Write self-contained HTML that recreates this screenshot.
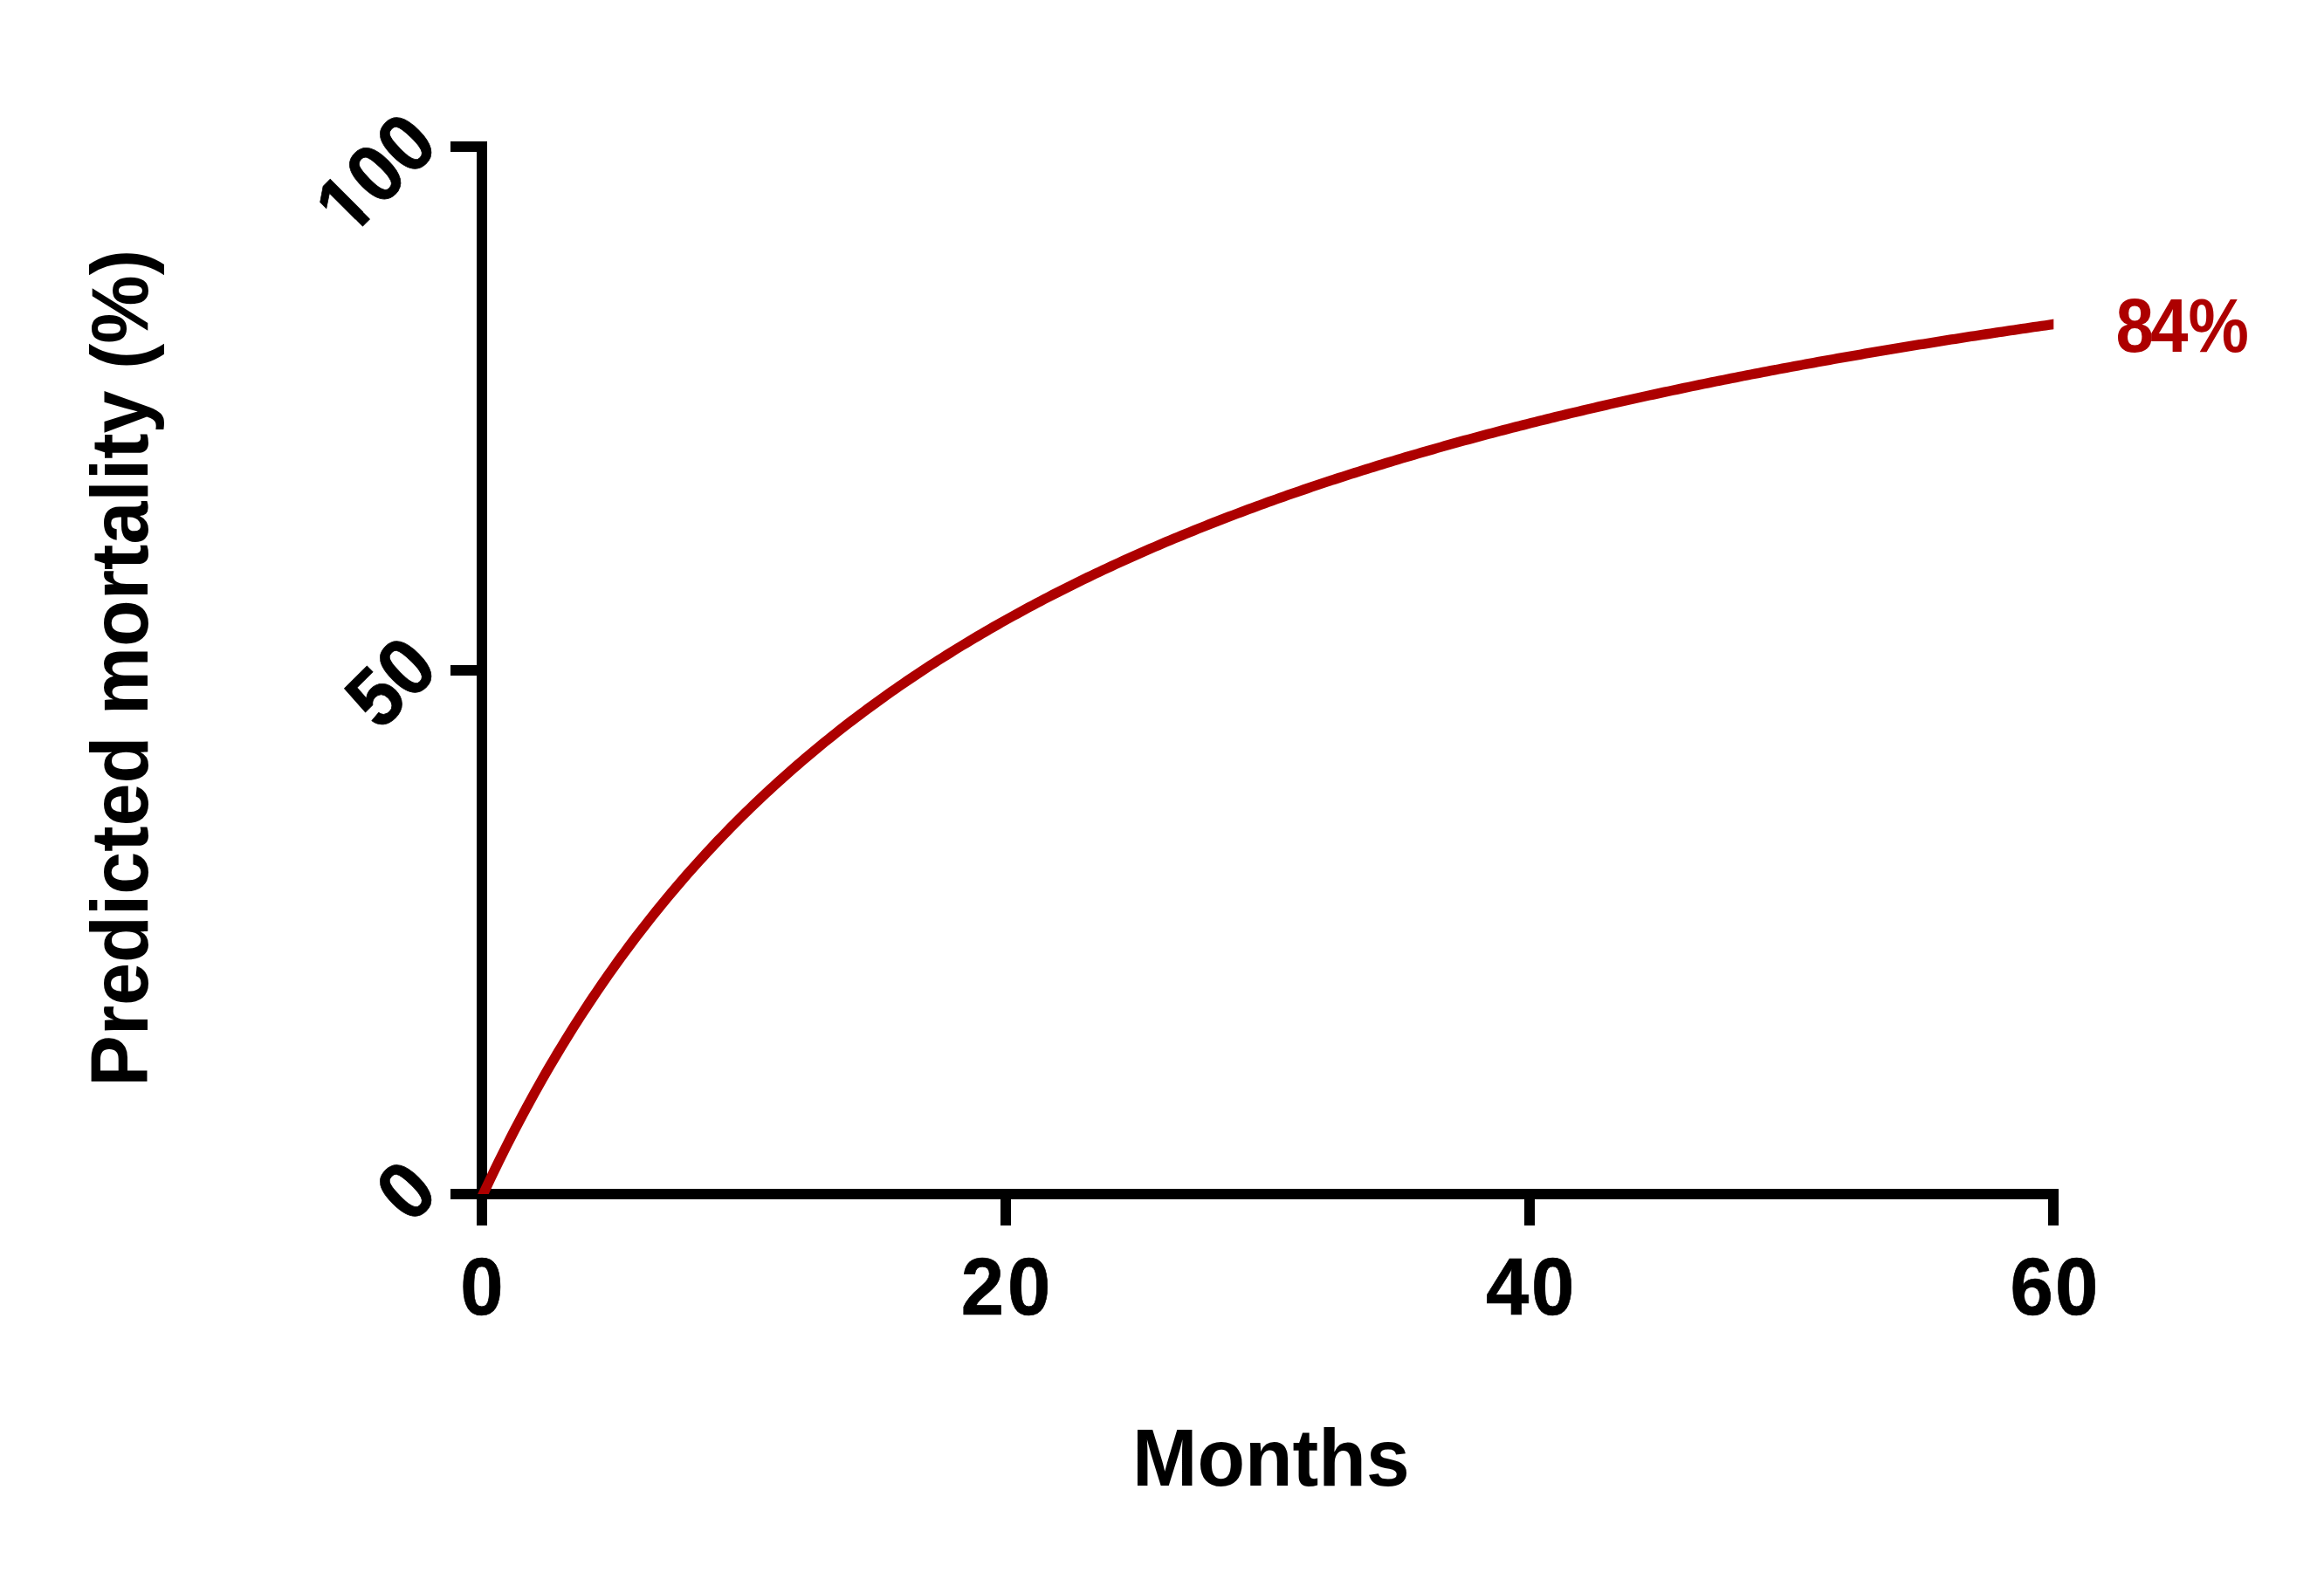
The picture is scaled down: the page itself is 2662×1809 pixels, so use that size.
<!DOCTYPE html>
<html lang="en"><head><meta charset="utf-8"><title>Predicted mortality</title>
<style>
html,body{margin:0;padding:0;background:#fff;}
body{width:2662px;height:1809px;overflow:hidden;}
svg{display:block;}
text{font-family:"Liberation Sans",Arial,Helvetica,sans-serif;font-weight:bold;}
</style></head><body>
<svg width="2662" height="1809" viewBox="0 0 2662 1809">
<rect width="2662" height="1809" fill="#fff"/>
<defs><clipPath id="plotclip"><rect x="500" y="0" width="1852.30" height="1368"/></clipPath></defs>

<g fill="#000" shape-rendering="crispEdges">
<rect x="546" y="162" width="12" height="1212"/>
<rect x="516" y="1362" width="1842" height="12"/>
<rect x="516" y="162" width="42" height="12"/>
<rect x="516" y="762" width="42" height="12"/>
<rect x="546" y="1362" width="12" height="42"/>
<rect x="1146" y="1362" width="12" height="42"/>
<rect x="1746" y="1362" width="12" height="42"/>
<rect x="2346" y="1362" width="12" height="42"/>
</g>
<polyline clip-path="url(#plotclip)" points="535.51,1407.93 540.01,1397.73 544.51,1387.67 549.00,1377.77 553.50,1368.00 558.00,1358.37 562.49,1348.89 566.99,1339.53 571.49,1330.31 575.98,1321.22 580.48,1312.25 584.97,1303.40 589.47,1294.68 593.97,1286.08 598.46,1277.59 602.96,1269.21 607.46,1260.95 611.95,1252.79 616.45,1244.75 620.94,1236.80 625.44,1228.96 629.94,1221.23 634.43,1213.59 638.93,1206.04 643.42,1198.60 647.92,1191.24 652.42,1183.98 656.91,1176.81 661.41,1169.72 665.91,1162.73 670.40,1155.81 674.90,1148.99 679.39,1142.24 683.89,1135.57 688.39,1128.99 692.88,1122.48 697.38,1116.05 701.88,1109.69 706.37,1103.41 710.87,1097.20 715.37,1091.06 719.86,1084.99 724.36,1078.99 728.85,1073.05 733.35,1067.19 737.85,1061.39 742.34,1055.65 746.84,1049.98 751.34,1044.37 755.83,1038.82 760.33,1033.33 764.82,1027.90 769.32,1022.52 773.82,1017.21 778.31,1011.95 782.81,1006.75 787.30,1001.60 791.80,996.51 796.30,991.46 800.79,986.47 805.29,981.54 809.79,976.65 814.28,971.81 818.78,967.02 823.27,962.28 827.77,957.59 832.27,952.94 836.76,948.34 841.26,943.79 845.76,939.28 850.25,934.82 854.75,930.39 859.24,926.02 863.74,921.68 868.24,917.38 872.73,913.13 877.23,908.92 881.73,904.74 886.22,900.61 890.72,896.51 895.22,892.46 899.71,888.44 904.21,884.45 908.70,880.51 913.20,876.60 917.70,872.72 922.19,868.88 926.69,865.08 931.18,861.31 935.68,857.57 940.18,853.87 944.67,850.20 949.17,846.56 953.67,842.96 958.16,839.38 962.66,835.84 967.15,832.33 971.65,828.85 976.15,825.39 980.64,821.97 985.14,818.58 989.64,815.22 994.13,811.88 998.63,808.57 1003.12,805.29 1007.62,802.04 1012.12,798.81 1016.61,795.62 1021.11,792.44 1025.61,789.30 1030.10,786.18 1034.60,783.08 1039.10,780.01 1043.59,776.97 1048.09,773.95 1052.58,770.95 1057.08,767.98 1061.58,765.03 1066.07,762.10 1070.57,759.20 1075.07,756.32 1079.56,753.47 1084.06,750.63 1088.55,747.82 1093.05,745.03 1097.55,742.26 1102.04,739.51 1106.54,736.78 1111.04,734.08 1115.53,731.39 1120.03,728.73 1124.52,726.08 1129.02,723.46 1133.52,720.85 1138.01,718.26 1142.51,715.70 1147.01,713.15 1151.50,710.62 1156.00,708.11 1160.49,705.62 1164.99,703.14 1169.49,700.69 1173.98,698.25 1178.48,695.83 1182.97,693.42 1187.47,691.04 1191.97,688.67 1196.46,686.32 1200.96,683.98 1205.46,681.66 1209.95,679.36 1214.45,677.07 1218.94,674.80 1223.44,672.55 1227.94,670.31 1232.43,668.08 1236.93,665.88 1241.43,663.68 1245.92,661.50 1250.42,659.34 1254.91,657.19 1259.41,655.06 1263.91,652.94 1268.40,650.83 1272.90,648.74 1277.40,646.66 1281.89,644.60 1286.39,642.55 1290.89,640.51 1295.38,638.49 1299.88,636.48 1304.37,634.48 1308.87,632.50 1313.37,630.53 1317.86,628.57 1322.36,626.63 1326.86,624.69 1331.35,622.77 1335.85,620.87 1340.34,618.97 1344.84,617.09 1349.34,615.21 1353.83,613.36 1358.33,611.51 1362.83,609.67 1367.32,607.85 1371.82,606.03 1376.31,604.23 1380.81,602.44 1385.31,600.66 1389.80,598.89 1394.30,597.13 1398.80,595.38 1403.29,593.65 1407.79,591.92 1412.28,590.20 1416.78,588.50 1421.28,586.80 1425.77,585.12 1430.27,583.44 1434.76,581.78 1439.26,580.13 1443.76,578.48 1448.25,576.85 1452.75,575.22 1457.25,573.60 1461.74,572.00 1466.24,570.40 1470.74,568.81 1475.23,567.23 1479.73,565.66 1484.22,564.10 1488.72,562.55 1493.22,561.01 1497.71,559.48 1502.21,557.95 1506.70,556.44 1511.20,554.93 1515.70,553.43 1520.19,551.94 1524.69,550.46 1529.19,548.99 1533.68,547.52 1538.18,546.06 1542.67,544.61 1547.17,543.17 1551.67,541.74 1556.16,540.32 1560.66,538.90 1565.16,537.49 1569.65,536.09 1574.15,534.69 1578.64,533.31 1583.14,531.93 1587.64,530.56 1592.13,529.19 1596.63,527.84 1601.13,526.49 1605.62,525.15 1610.12,523.81 1614.62,522.49 1619.11,521.16 1623.61,519.85 1628.10,518.55 1632.60,517.25 1637.10,515.95 1641.59,514.67 1646.09,513.39 1650.59,512.12 1655.08,510.85 1659.58,509.59 1664.07,508.34 1668.57,507.09 1673.07,505.85 1677.56,504.62 1682.06,503.39 1686.55,502.17 1691.05,500.96 1695.55,499.75 1700.04,498.55 1704.54,497.35 1709.04,496.16 1713.53,494.97 1718.03,493.80 1722.53,492.62 1727.02,491.46 1731.52,490.30 1736.01,489.14 1740.51,487.99 1745.01,486.85 1749.50,485.71 1754.00,484.58 1758.50,483.45 1762.99,482.33 1767.49,481.22 1771.98,480.11 1776.48,479.00 1780.98,477.90 1785.47,476.81 1789.97,475.72 1794.46,474.64 1798.96,473.56 1803.46,472.49 1807.95,471.42 1812.45,470.36 1816.95,469.30 1821.44,468.25 1825.94,467.20 1830.44,466.16 1834.93,465.12 1839.43,464.09 1843.92,463.06 1848.42,462.04 1852.92,461.02 1857.41,460.00 1861.91,459.00 1866.40,457.99 1870.90,456.99 1875.40,456.00 1879.89,455.01 1884.39,454.02 1888.89,453.04 1893.38,452.06 1897.88,451.09 1902.38,450.12 1906.87,449.16 1911.37,448.20 1915.86,447.25 1920.36,446.30 1924.86,445.35 1929.35,444.41 1933.85,443.47 1938.35,442.54 1942.84,441.61 1947.34,440.68 1951.83,439.76 1956.33,438.85 1960.83,437.93 1965.32,437.02 1969.82,436.12 1974.31,435.22 1978.81,434.32 1983.31,433.43 1987.80,432.54 1992.30,431.65 1996.80,430.77 2001.29,429.90 2005.79,429.02 2010.29,428.15 2014.78,427.29 2019.28,426.42 2023.77,425.57 2028.27,424.71 2032.77,423.86 2037.26,423.01 2041.76,422.17 2046.25,421.33 2050.75,420.49 2055.25,419.66 2059.74,418.83 2064.24,418.00 2068.74,417.18 2073.23,416.36 2077.73,415.54 2082.22,414.73 2086.72,413.92 2091.22,413.12 2095.71,412.31 2100.21,411.51 2104.71,410.72 2109.20,409.93 2113.70,409.14 2118.20,408.35 2122.69,407.57 2127.19,406.79 2131.68,406.01 2136.18,405.24 2140.68,404.47 2145.17,403.70 2149.67,402.94 2154.16,402.18 2158.66,401.42 2163.16,400.66 2167.65,399.91 2172.15,399.16 2176.65,398.42 2181.14,397.68 2185.64,396.94 2190.14,396.20 2194.63,395.47 2199.13,394.74 2203.62,394.01 2208.12,393.28 2212.62,392.56 2217.11,391.84 2221.61,391.12 2226.10,390.41 2230.60,389.70 2235.10,388.99 2239.59,388.29 2244.09,387.58 2248.59,386.88 2253.08,386.19 2257.58,385.49 2262.07,384.80 2266.57,384.11 2271.07,383.42 2275.56,382.74 2280.06,382.06 2284.56,381.38 2289.05,380.70 2293.55,380.03 2298.05,379.36 2302.54,378.69 2307.04,378.02 2311.53,377.36 2316.03,376.70 2320.53,376.04 2325.02,375.39 2329.52,374.73 2334.01,374.08 2338.51,373.43 2343.01,372.79 2347.50,372.14 2352.00,371.50 2356.50,370.86 2360.99,370.23 2365.49,369.59 2369.99,368.96" fill="none" stroke="#ad0000" stroke-width="11.4" stroke-linejoin="round"/>
<text transform="translate(505.00,1369.30) rotate(-45) scale(0.985,1.04)" text-anchor="end" font-size="90" fill="#000" stroke="#000" stroke-width="0.7">0</text>
<text transform="translate(505.00,769.30) rotate(-45) scale(0.985,1.04)" text-anchor="end" font-size="90" fill="#000" stroke="#000" stroke-width="0.7">50</text>
<text transform="translate(505.00,169.30) rotate(-45) scale(0.985,1.04)" text-anchor="end" font-size="90" fill="#000" stroke="#000" stroke-width="0.7">100</text>
<g transform="translate(505.00,169.30) rotate(-45) scale(0.985,1.04)" fill="#fff"><rect x="-146.49" y="-10.38" width="17.34" height="12.18"/><rect x="-116.81" y="-10.38" width="16.19" height="12.18"/></g>
<text transform="translate(552.00,1505.50) rotate(0) scale(0.985,1.04)" text-anchor="middle" font-size="90" fill="#000" stroke="#000" stroke-width="0.7">0</text>
<text transform="translate(1154.00,1505.50) rotate(0) scale(0.985,1.04)" text-anchor="middle" font-size="90" fill="#000" stroke="#000" stroke-width="0.7" letter-spacing="4">20</text>
<text transform="translate(1754.00,1505.50) rotate(0) scale(0.985,1.04)" text-anchor="middle" font-size="90" fill="#000" stroke="#000" stroke-width="0.7" letter-spacing="2.8">40</text>
<text transform="translate(2354.00,1505.50) rotate(0) scale(0.985,1.04)" text-anchor="middle" font-size="90" fill="#000" stroke="#000" stroke-width="0.7" letter-spacing="2.3">60</text>
<text transform="translate(1455.80,1701.50) rotate(0) scale(0.9932,1.02)" text-anchor="middle" font-size="90" fill="#000" >Months</text>
<text transform="translate(169.20,765.50) rotate(-90) scale(0.9785,1.02)" text-anchor="middle" font-size="90" fill="#000" >Predicted mortality (%)</text>
<text transform="translate(2423.60,403.00) scale(0.93,1.03)" font-size="84" fill="#ad0000" dx="0 -4.4">84%</text>
</svg></body></html>
